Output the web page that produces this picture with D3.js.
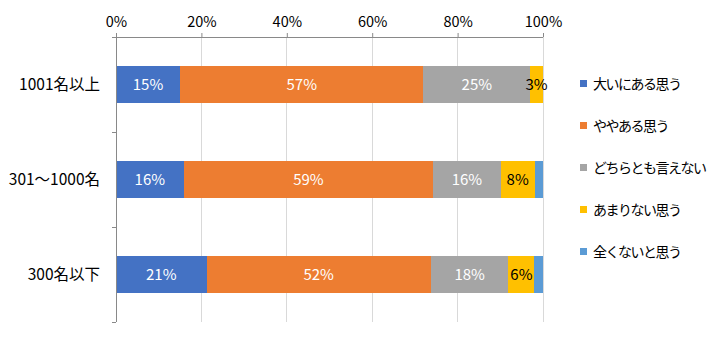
<!DOCTYPE html>
<html>
<head>
<meta charset="utf-8">
<script src="https://cdn.jsdelivr.net/npm/d3@7"></script>
<style>
  html, body { margin: 0; padding: 0; background: #fff; }
  svg { display: block; font-family: "Noto Sans CJK JP", "Noto Sans", sans-serif; }
</style>
</head>
<body>
<svg id="chart" width="713" height="337"></svg>
<script>
// Company size groups, top to bottom
const categories = ["1001名以上", "301～1000名", "300名以下"];
// Response options (stack order, left to right)
const seriesNames = ["大いにある思う", "ややある思う", "どちらとも言えない", "あまりない思う", "全くないと思う"];
const seriesColors = ["#4472C4", "#ED7D31", "#A5A5A5", "#FFC000", "#5B9BD5"];
// Shares in percent, one array per response option
const s1 = [15, 16, 21];
const s2 = [57, 59, 52];
const s3 = [25, 16, 18];
const s4 = [3, 8, 6];
const s5 = [0, 2, 2];
const xTicks = [0, 0.2, 0.4, 0.6, 0.8, 1.0];
// Text colour of the value labels per series
const labelColors = ["#fff", "#fff", "#fff", "#000", null];

const seriesValues = [s1, s2, s3, s4, s5];
const rows = categories.map((c, i) => {
  const r = { cat: c };
  seriesNames.forEach((s, k) => { r[s] = seriesValues[k][i]; });
  return r;
});

const svg = d3.select("#chart");
const margin = { left: 116, right: 170, top: 37, bottom: 15 };
const W = 713, H = 337;

const x = d3.scaleLinear().domain([0, 1]).range([margin.left, W - margin.right]);
const y = d3.scaleBand().domain(categories).range([margin.top, H - margin.bottom]).paddingInner(0.61).paddingOuter(0.305);
const yb = d3.scaleBand().domain(categories).range([margin.top, H - margin.bottom]);

// 100% stacked layout
const stacked = d3.stack().keys(seriesNames).offset(d3.stackOffsetExpand)(rows);

// Vertical gridlines
svg.append("g").selectAll("line").data(xTicks.slice(1)).join("line")
  .attr("x1", d => x(d)).attr("x2", d => x(d))
  .attr("y1", margin.top).attr("y2", H - margin.bottom)
  .attr("stroke", "#D9D9D9").attr("stroke-width", 1)
  .attr("shape-rendering", "crispEdges");

// Bars
const layers = svg.append("g").selectAll("g").data(stacked).join("g")
  .attr("fill", (d, i) => seriesColors[i]);
layers.selectAll("rect").data(d => d).join("rect")
  .attr("x", d => x(d[0]))
  .attr("width", d => Math.max(0, x(d[1]) - x(d[0])))
  .attr("y", d => y(d.data.cat))
  .attr("height", y.bandwidth())
  .attr("shape-rendering", "crispEdges");

// Value labels
stacked.forEach((layer, i) => {
  if (!labelColors[i]) return;
  svg.append("g").selectAll("text").data(layer.filter(d => d.data[layer.key] > 0)).join("text")
    .attr("x", d => (x(d[0]) + x(d[1])) / 2)
    .attr("y", d => y(d.data.cat) + y.bandwidth() / 2)
    .attr("dy", "0.36em")
    .attr("text-anchor", "middle")
    .attr("font-size", 15)
    .attr("fill", labelColors[i])
    .text(d => d.data[layer.key] + "%");
});

// Top axis
const xAxis = d3.axisTop(x).tickValues(xTicks).tickFormat(d3.format(".0%")).tickSize(4).tickPadding(6);
const gx = svg.append("g").attr("transform", `translate(0,${margin.top})`).call(xAxis);
gx.select(".domain").attr("stroke", "#898989").attr("d", `M${margin.left - 4},0.5H${x(1)}`);
gx.selectAll(".tick line").attr("stroke", "#898989");
gx.selectAll(".tick text").attr("font-size", 14.5).attr("fill", "#000")
  .attr("font-family", "\"Noto Sans CJK JP\", sans-serif");

// Left axis with ticks on the band boundaries
const gy = svg.append("g");
gy.append("line")
  .attr("x1", margin.left + 0.5).attr("x2", margin.left + 0.5)
  .attr("y1", margin.top).attr("y2", H - margin.bottom)
  .attr("stroke", "#898989");
gy.selectAll("line.tk").data(categories).join("line").attr("class", "tk")
  .attr("x1", margin.left - 4).attr("x2", margin.left)
  .attr("y1", d => Math.round(yb(d) + yb.bandwidth()) + 0.5)
  .attr("y2", d => Math.round(yb(d) + yb.bandwidth()) + 0.5)
  .attr("stroke", "#898989");
gy.selectAll("text").data(categories).join("text")
  .attr("x", 100)
  .attr("y", d => y(d) + y.bandwidth() / 2)
  .attr("dy", "0.36em")
  .attr("text-anchor", "end")
  .attr("font-size", 15.5)
  .attr("fill", "#000")
  .text(d => d);

// Legend
const legend = svg.append("g").attr("transform", "translate(580,84)");
const li = legend.selectAll("g").data(seriesNames).join("g")
  .attr("transform", (d, i) => `translate(0,${i * 42})`);
li.append("rect").attr("x", 0).attr("y", -4).attr("width", 7).attr("height", 7)
  .attr("fill", (d, i) => seriesColors[i]);
li.append("text").attr("x", 13).attr("y", 0).attr("dy", "0.36em")
  .attr("font-size", 14).attr("letter-spacing", -1.5)
  .attr("fill", "#000").text(d => d);
</script>
</body>
</html>
